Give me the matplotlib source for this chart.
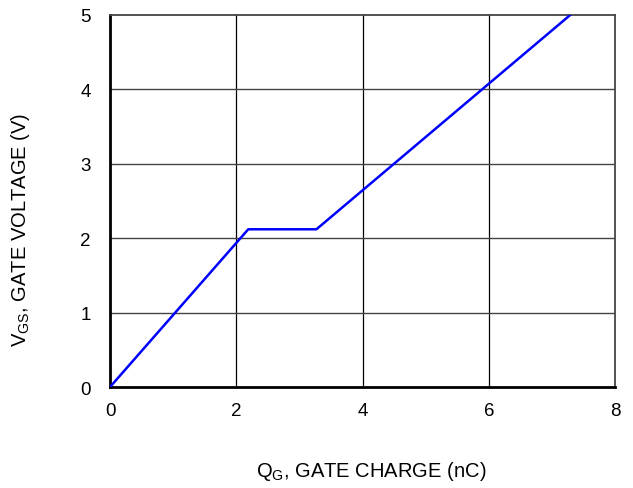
import matplotlib
matplotlib.use("Agg")
import matplotlib.pyplot as plt

plt.rcParams['font.family'] = ['Liberation Sans', 'DejaVu Sans']
plt.rcParams['mathtext.fontset'] = 'custom'
plt.rcParams['mathtext.rm'] = 'Liberation Sans'
plt.rcParams['mathtext.it'] = 'Liberation Sans'

# gate charge curve (nC vs V)
qg = [0.0, 2.19, 3.27, 7.29]
vgs = [0.0, 2.12, 2.12, 5.0]
xticks = [0, 2, 4, 6, 8]
yticks = [0, 1, 2, 3, 4, 5]

fig = plt.figure(figsize=(6.33, 4.89), dpi=100)
ax = fig.add_axes([0.1738, 0.2065, 0.7978, 0.7608])

for x in xticks[1:-1]:
    ax.axvline(x, color='black', lw=0.9, zorder=1)
for y in yticks[1:-1]:
    ax.axhline(y, color='#444444', lw=1.0, zorder=1)

ax.plot(qg, vgs, color='#0000ff', lw=1.8, zorder=3)

ax.set_xlim(0, 8)
ax.set_ylim(0, 5)
ax.set_xticks(xticks)
ax.set_yticks(yticks)
ax.tick_params(length=0, labelsize=13.5, pad=11)
ax.tick_params(axis='y', pad=14)

ax.spines['left'].set_linewidth(2.0)
ax.spines['bottom'].set_linewidth(2.0)
ax.spines['top'].set_color('#444444')
ax.spines['right'].set_color('#444444')
ax.spines['top'].set_linewidth(1.3)
ax.spines['right'].set_linewidth(1.3)

fig.text(0.587, 0.035, r'$\mathregular{Q_G}$, GATE CHARGE (nC)', ha='center', va='center', fontsize=14.5)
fig.text(0.032, 0.53, r'$\mathregular{V_{GS}}$, GATE VOLTAGE (V)', ha='center', va='center',
         rotation=90, fontsize=14.5)

fig.savefig('out.png', dpi=100)
